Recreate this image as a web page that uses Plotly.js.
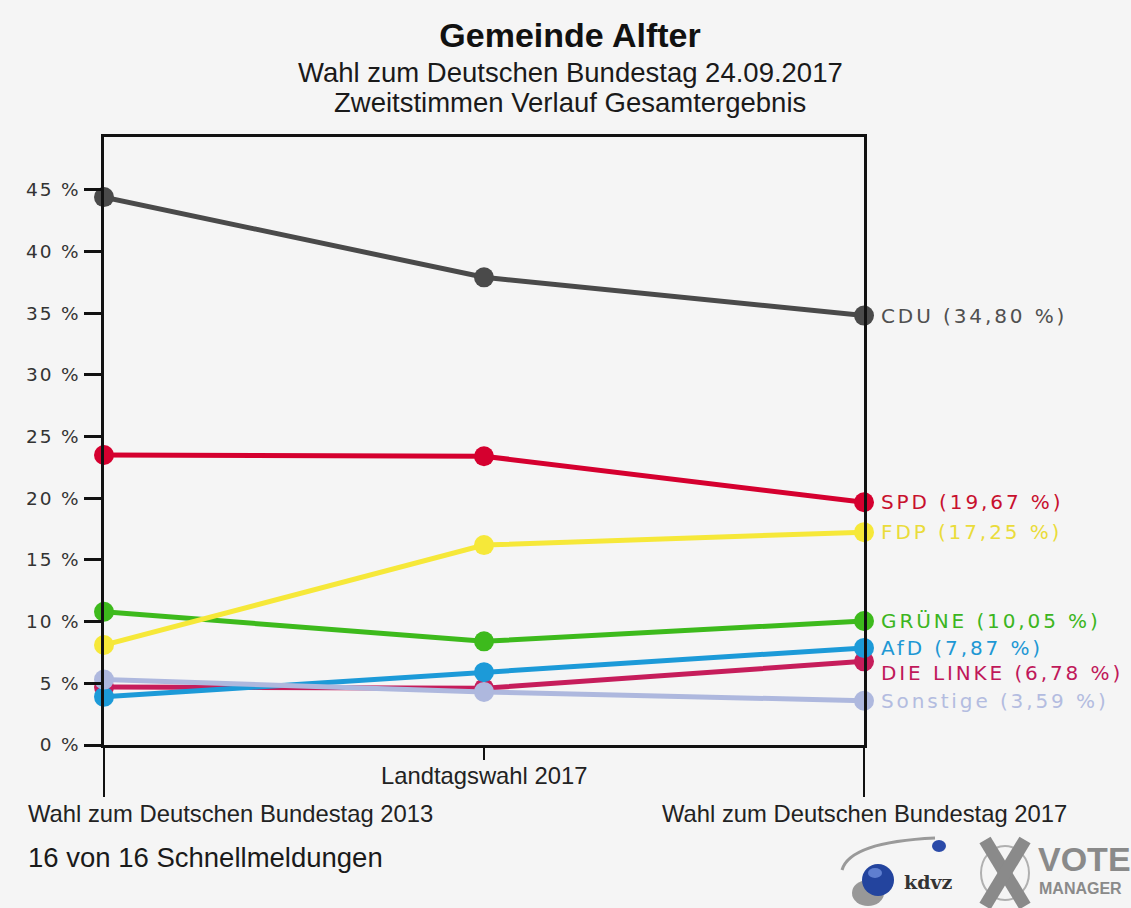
<!DOCTYPE html>
<html>
<head>
<meta charset="utf-8">
<script src="https://cdn.plot.ly/plotly-3.0.1.min.js"></script>
<style>
  html, body { margin: 0; padding: 0; background: #f5f5f5; }
  #chart { width: 1131px; height: 908px; }
  .ytick text { letter-spacing: 1.8px; }
</style>
</head>
<body>
<div id="chart"></div>
<script>
// ---- data ----
const categories = ['Wahl zum Deutschen Bundestag 2013', 'Landtagswahl 2017', 'Wahl zum Deutschen Bundestag 2017'];
const parties = ['CDU', 'SPD', 'GRÜNE', 'FDP', 'DIE LINKE', 'AfD', 'Sonstige'];
const cdu = [44.4, 37.9, 34.80];
const spd = [23.5, 23.4, 19.67];
const gruene = [10.8, 8.4, 10.05];
const fdp = [8.1, 16.2, 17.25];
const linke = [4.7, 4.6, 6.78];
const afd = [3.9, 5.9, 7.87];
const sonstige = [5.3, 4.3, 3.59];
const yTicks = [0, 5, 10, 15, 20, 25, 30, 35, 40, 45];
const footer = '16 von 16 Schnellmeldungen';

// ---- styles ----
const values = [cdu, spd, gruene, fdp, linke, afd, sonstige];
const lineColors = ['#4a4a4a', '#d5002f', '#3dba1c', '#f6e839', '#c61d5b', '#1c9ad8', '#aeb8de'];
const labelColors = ['#505050', '#c8102e', '#3cb521', '#eadc3a', '#c0185a', '#1e98d4', '#b3bce0'];
const labelShift = [0, 0, 0, 0, -12, 0, 0];

// plot area in pixels
const L = 104, R = 267, T = 137, B = 163, W = 1131, H = 908;
const pw = W - L - R, ph = H - T - B;
const px = x => (x - L) / pw;
const py = y => (H - B - y) / ph;

const traces = parties.map((p, i) => ({
  type: 'scatter', mode: 'lines+markers', name: p,
  x: categories, y: values[i],
  line: { color: lineColors[i], width: 5 },
  marker: { color: lineColors[i], size: 20 },
  cliponaxis: false, hoverinfo: 'skip'
}));

const annotations = [];
// subtitles
annotations.push({ xref: 'paper', yref: 'paper', x: px(570), y: py(72), xanchor: 'center', yanchor: 'middle',
  text: 'Wahl zum Deutschen Bundestag 24.09.2017', showarrow: false,
  font: { family: 'Liberation Sans, Arial, sans-serif', size: 27.5, color: '#1a1a1a' } });
annotations.push({ xref: 'paper', yref: 'paper', x: px(570), y: py(103), xanchor: 'center', yanchor: 'middle',
  text: 'Zweitstimmen Verlauf Gesamtergebnis', showarrow: false,
  font: { family: 'Liberation Sans, Arial, sans-serif', size: 27.5, color: '#1a1a1a' } });
// right end labels
const last = categories.length - 1;
parties.forEach((p, i) => {
  const v = values[i][last];
  annotations.push({ xref: 'x', yref: 'y', x: categories[last], y: v, xanchor: 'left', yanchor: 'middle',
    xshift: 15, yshift: labelShift[i], showarrow: false,
    text: '<span style="letter-spacing:2.9px">' + p + ' (' + v.toFixed(2).replace('.', ',') + ' %)</span>',
    font: { family: 'DejaVu Sans, Verdana, sans-serif', size: 20, color: labelColors[i] } });
});
// category labels
categories.forEach((c, i) => {
  const mid = (i > 0 && i < last);
  annotations.push({ xref: 'x', yref: 'paper', x: c, y: py(mid ? 775 : 813),
    xanchor: i === 0 ? 'left' : 'center', xshift: i === 0 ? -78 : 0, yanchor: 'middle',
    text: c, showarrow: false,
    font: { family: 'Liberation Sans, Arial, sans-serif', size: 23.8, color: '#222' } });
});
// footer
annotations.push({ xref: 'paper', yref: 'paper', x: px(26), y: py(857), xanchor: 'left', yanchor: 'middle',
  text: footer, showarrow: false, font: { family: 'Liberation Sans, Arial, sans-serif', size: 27.5, color: '#1a1a1a' } });
// logo texts
annotations.push({ xref: 'paper', yref: 'paper', x: px(902), y: py(882), xanchor: 'left', yanchor: 'middle',
  text: '<b>kdvz</b>', showarrow: false, font: { family: 'DejaVu Serif, serif', size: 19, color: '#333' } });
annotations.push({ xref: 'paper', yref: 'paper', x: px(1036), y: py(859), xanchor: 'left', yanchor: 'middle',
  text: '<b>VOTE</b>', showarrow: false, font: { family: 'Liberation Sans, Arial, sans-serif', size: 34, color: '#8a8a8a' } });
annotations.push({ xref: 'paper', yref: 'paper', x: px(1037), y: py(888), xanchor: 'left', yanchor: 'middle',
  text: '<b>MANAGER</b>', showarrow: false, font: { family: 'Liberation Sans, Arial, sans-serif', size: 16, color: '#8a8a8a' } });

const shapes = [];
// extended vertical frame lines below the axis
[0, last].forEach(i => {
  const xp = i / last;
  shapes.push({ type: 'line', xref: 'paper', yref: 'paper', x0: xp, x1: xp, y0: 0, y1: py(797),
    line: { color: '#111', width: 2 } });
});
// logo graphics
shapes.push({ type: 'path', xref: 'paper', yref: 'paper',
  path: `M ${px(842)} ${py(870)} Q ${px(850)} ${py(842)} ${px(935)} ${py(838)}`,
  line: { color: '#9a9a9a', width: 3 } });
shapes.push({ type: 'circle', xref: 'paper', yref: 'paper', x0: px(852), x1: px(884), y0: py(906), y1: py(880),
  fillcolor: 'rgba(40,40,40,0.45)', line: { width: 0 } });
shapes.push({ type: 'circle', xref: 'paper', yref: 'paper', x0: px(862), x1: px(894), y0: py(896), y1: py(864),
  fillcolor: '#23449e', line: { width: 0 } });
shapes.push({ type: 'circle', xref: 'paper', yref: 'paper', x0: px(868), x1: px(882), y0: py(878), y1: py(868),
  fillcolor: '#5f7fd0', line: { width: 0 } });
shapes.push({ type: 'circle', xref: 'paper', yref: 'paper', x0: px(932), x1: px(946), y0: py(852), y1: py(840),
  fillcolor: '#2a4aa8', line: { width: 0 } });
shapes.push({ type: 'circle', xref: 'paper', yref: 'paper', x0: px(981), x1: px(1029), y0: py(900), y1: py(846),
  line: { color: '#b0b0b0', width: 2 } });
shapes.push({ type: 'line', xref: 'paper', yref: 'paper', x0: px(985), x1: px(1025), y0: py(840), y1: py(906),
  line: { color: '#8a8a8a', width: 13 } });
shapes.push({ type: 'line', xref: 'paper', yref: 'paper', x0: px(1025), x1: px(985), y0: py(840), y1: py(906),
  line: { color: '#8a8a8a', width: 13 } });

const layout = {
  width: W, height: H,
  margin: { l: L, r: R, t: T, b: B },
  paper_bgcolor: '#f5f5f5', plot_bgcolor: '#f5f5f5',
  showlegend: false,
  title: { text: '<b>Gemeinde Alfter</b>', x: 570 / W, xanchor: 'center', y: 1 - 35 / H, yanchor: 'middle',
    font: { family: 'Liberation Sans, Arial, sans-serif', size: 34, color: '#111' } },
  xaxis: { type: 'category', range: [0, last], showline: true, mirror: true, linewidth: 3, linecolor: '#111',
    ticks: 'outside', ticklen: 12, tickwidth: 2, tickcolor: '#111', showticklabels: false,
    showgrid: false, zeroline: false, fixedrange: true },
  yaxis: { range: [0, ph / 12.34], showline: true, mirror: true, linewidth: 3, linecolor: '#111',
    tickmode: 'array', tickvals: yTicks, ticktext: yTicks.map(v => v + ' %'),
    ticks: 'outside', ticklen: 17, tickwidth: 3, tickcolor: '#111', ticklabelstandoff: 0,
    tickfont: { family: 'DejaVu Sans, Verdana, sans-serif', size: 18.5, color: '#333' },
    showgrid: false, zeroline: false, fixedrange: true },
  annotations: annotations,
  shapes: shapes
};

Plotly.newPlot('chart', traces, layout, { displayModeBar: false, staticPlot: true });
</script>
</body>
</html>
